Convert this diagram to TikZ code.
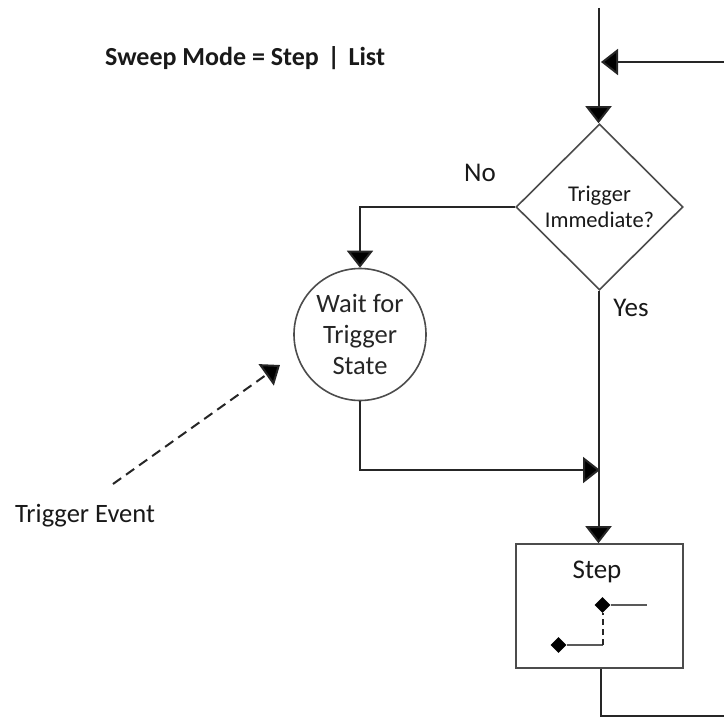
\documentclass[tikz,border=0pt]{standalone}
\usepackage{fontspec}
\setmainfont{Carlito}
\usetikzlibrary{shapes.geometric,arrows.meta}
\tikzset{
 x=1pt,y=-1pt,
 line/.style={draw=black!85,line width=2pt},
 arrowline/.style={line,-{Triangle[width=26pt,length=17pt,fill=black]}},
 flowshape/.style={draw=black!70,line width=1.6pt,fill=white,inner sep=0pt,align=center,text=black!85},
 lab/.style={inner sep=0pt,text=black!90},
 stepline/.style={draw=black!65,line width=2.2pt},
 dot/.style={diamond,fill=black,inner sep=0pt,minimum size=16pt},
}
\begin{document}
\begin{tikzpicture}
\useasboundingbox (0,0) rectangle (724,717);
\fill[white] (0,0) rectangle (724,717);
\coordinate (top) at (598.5,8);
\coordinate (inR) at (724,62);
\coordinate (inL) at (601,62);
\coordinate (turn) at (360,207);
\coordinate (mergeS) at (360,470);
\coordinate (merge) at (600,470);
\coordinate (outA) at (600.5,716);
\coordinate (outB) at (724,716);
\coordinate (evA) at (113,484);
\coordinate (evB) at (280,365);
\node[flowshape,diamond,minimum width=167pt,minimum height=166pt,aspect=1] (dec) at (599.5,207) {};
\node[lab,font=\fontsize{22.5}{26}\selectfont,align=center] (dectxt) at (599.5,207) {Trigger\\Immediate?};
\node[flowshape,circle,minimum size=132pt,font=\fontsize{26.5}{31}\selectfont] (wait) at (360,334.5) {Wait for\\Trigger\\State};
\node[flowshape,rectangle,minimum width=167pt,minimum height=124pt] (stepbox) at (599.5,606) {};
\draw[arrowline] (top) -- (top |- dec.north);
\draw[arrowline] (inR) -- (inL);
\draw[arrowline] (dec.west) -- (turn) -- (wait.north);
\draw[arrowline] (dec.south -| top) -- (top |- stepbox.north);
\draw[arrowline] (wait.south) -- (mergeS) -- (merge);
\draw[line] (stepbox.south -| outA) -- (outA) -- (outB);
\draw[line,dash pattern=on 10pt off 6pt,-{Triangle[width=26pt,length=17pt,fill=black]}] (evA) -- (evB);
\node[lab,font=\bfseries\fontsize{26}{28}\selectfont,anchor=west] (title) at (105,58.5) {Sweep Mode = Step\,\,|\,\,List};
\node[lab,font=\fontsize{27}{30}\selectfont] (no) at (480,173) {No};
\node[lab,font=\fontsize{27}{30}\selectfont] (yes) at (631,308) {Yes};
\node[lab,font=\fontsize{26.5}{30}\selectfont,anchor=west] (event) at (15,516) {Trigger Event};
\node[lab,font=\fontsize{27}{30}\selectfont] (steptxt) at (597,572) {Step};
\node[dot] (d1) at (602.5,605) {};
\node[dot] (d2) at (558.5,645) {};
\coordinate (s1) at (647,605);
\coordinate (s2) at (602.5,645);
\draw[stepline] (d1) -- (s1);
\draw[stepline] (d2) -- (s2);
\draw[black!85,line width=2pt,dash pattern=on 6pt off 4pt] (s2) -- (d1);
\end{tikzpicture}
\end{document}
